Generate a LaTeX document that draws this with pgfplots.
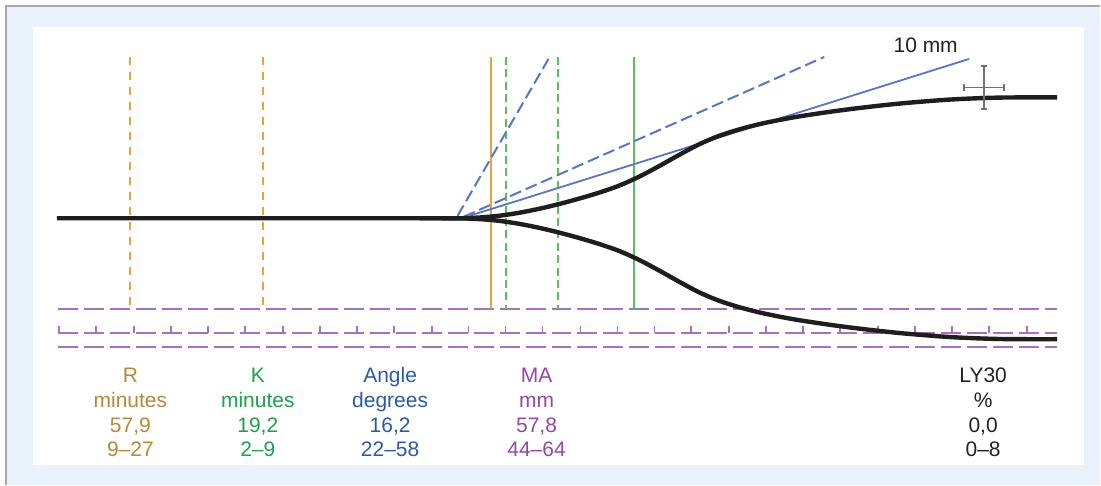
\documentclass[border=0pt]{standalone}
\usepackage{pgfplots}
\pgfplotsset{compat=1.18}
\usepackage{fontspec}
\setmainfont{Liberation Sans}
\definecolor{bgblue}{HTML}{E9F1FB}
\definecolor{bordergray}{HTML}{A8A8A8}
\definecolor{orline}{HTML}{E3A53E}
\definecolor{ortext}{HTML}{B5893A}
\definecolor{grline}{HTML}{5BBF5B}
\definecolor{grtext}{HTML}{1FA04A}
\definecolor{blline}{HTML}{5877BF}
\definecolor{bltext}{HTML}{2B5BA8}
\definecolor{puline}{HTML}{A86FBD}
\definecolor{putext}{HTML}{94489F}
\definecolor{crossgray}{HTML}{707070}
\definecolor{curveblack}{HTML}{1E1E1E}
\definecolor{txtblack}{HTML}{222222}
\begin{document}
\fontsize{10.5}{12.25}\selectfont
\begin{tikzpicture}
\begin{axis}[
  x=0.5pt, y=0.5pt, y dir=reverse,
  xmin=0, xmax=1101, ymin=0, ymax=485,
  hide axis, clip=false,
  every node/.style={font=\fontsize{10.5}{12.25}\selectfont},
]
% backgrounds
\fill[white] (axis cs:0,0) rectangle (axis cs:1101,485);
\fill[bgblue] (axis cs:6,6) rectangle (axis cs:1101,485);
\draw[bordergray, line width=1pt] (axis cs:6,485) -- (axis cs:6,6) -- (axis cs:1101,6);
\fill[white] (axis cs:33,27) rectangle (axis cs:1085,465);

% purple time lines
\addplot[puline, line width=0.95pt, dash pattern=on 10pt off 3pt, forget plot] coordinates {(58,309) (1058,309)};
\addplot[puline, line width=0.95pt, dash pattern=on 10pt off 3pt, forget plot] coordinates {(58,333.5) (1058,333.5)};
\addplot[puline, line width=0.95pt, dash pattern=on 10pt off 3pt, forget plot] coordinates {(58,347.5) (1058,347.5)};
\addplot[puline, line width=0.9pt, unbounded coords=jump, forget plot] coordinates {
(59,333.5)(59,326.5)(nan,nan)
(96,333.5)(96,326.5)(nan,nan)
(134,333.5)(134,326.5)(nan,nan)
(171,333.5)(171,326.5)(nan,nan)
(208,333.5)(208,326.5)(nan,nan)
(245,333.5)(245,326.5)(nan,nan)
(283,333.5)(283,326.5)(nan,nan)
(320,333.5)(320,326.5)(nan,nan)
(357,333.5)(357,326.5)(nan,nan)
(394,333.5)(394,326.5)(nan,nan)
(432,333.5)(432,326.5)(nan,nan)
(469,333.5)(469,326.5)(nan,nan)
(506,333.5)(506,326.5)(nan,nan)
(543,333.5)(543,326.5)(nan,nan)
(581,333.5)(581,326.5)(nan,nan)
(618,333.5)(618,326.5)(nan,nan)
(655,333.5)(655,326.5)(nan,nan)
(692,333.5)(692,326.5)(nan,nan)
(730,333.5)(730,326.5)(nan,nan)
(767,333.5)(767,326.5)(nan,nan)
(804,333.5)(804,326.5)(nan,nan)
(841,333.5)(841,326.5)(nan,nan)
(879,333.5)(879,326.5)(nan,nan)
(916,333.5)(916,326.5)(nan,nan)
(953,333.5)(953,326.5)(nan,nan)
(990,333.5)(990,326.5)(nan,nan)
(1028,333.5)(1028,326.5)
};

% vertical markers
\addplot[orline, line width=1pt, dash pattern=on 4.25pt off 3.25pt, forget plot] coordinates {(130,57) (130,309)};
\addplot[orline, line width=1pt, dash pattern=on 4.25pt off 3.25pt, forget plot] coordinates {(263,57) (263,309)};
\addplot[orline, line width=1pt, forget plot] coordinates {(491,57) (491,309)};
\addplot[grline, line width=1pt, dash pattern=on 4pt off 2.2pt, forget plot] coordinates {(506,57) (506,309)};
\addplot[grline, line width=1pt, dash pattern=on 4pt off 2.2pt, forget plot] coordinates {(558,57) (558,309)};
\addplot[grline, line width=1pt, forget plot] coordinates {(634.5,57) (634.5,309)};

% angle lines
\addplot[blline, line width=1pt, dash pattern=on 6pt off 2.5pt, forget plot] coordinates {(458,216) (549,59)};
\addplot[blline, line width=1pt, dash pattern=on 6pt off 2.5pt, forget plot] coordinates {(464,217) (825,57)};
\addplot[blline, line width=0.9pt, forget plot] coordinates {(470,216) (970,59)};

% TEG curve
\addplot[curveblack, line width=2.2pt, smooth, line join=round, line cap=butt, forget plot] coordinates {
(57,218.5)(300,218.5)(440,218.5)(460,218.5)(480,217.7)(500,215.9)(520,212.9)(540,208.9)(560,204.1)(580,198.7)(600,192.7)(620,185.7)(640,176.7)(660,166.1)(680,154.9)(700,144.3)(720,135.9)(740,129.5)(760,124.3)(780,120.1)(800,116.5)(830,112)(860,108.1)(900,103.7)(950,99.7)(1000,97.7)(1058,97.5)
};
\addplot[curveblack, line width=2.2pt, smooth, line join=round, line cap=butt, forget plot] coordinates {
(420,218.5)(440,218.5)(460,218.5)(480,219.3)(500,221.1)(520,224.1)(540,228.1)(560,232.9)(580,238.3)(600,244.3)(620,251.3)(640,260.3)(660,270.9)(680,282.1)(700,292.7)(720,301.1)(740,307.5)(760,312.7)(780,316.9)(800,320.5)(830,325)(860,328.9)(900,333.3)(950,337.3)(1000,339.3)(1058,339.5)
};

% error cross
\addplot[draw=none, mark=none, forget plot,
  error bars/.cd, x dir=both, x explicit, y dir=both, y explicit,
  error bar style={crossgray, line width=0.9pt},
  error mark options={crossgray, line width=0.9pt, mark size=1.6pt, rotate=90}]
  coordinates {(985,87.5) +- (20,21.5)};

% labels
\node[anchor=base, txtblack] at (axis cs:926.5,53) {10 mm};

\node[anchor=base, ortext] at (axis cs:130.5,383) {R};
\node[anchor=base, ortext] at (axis cs:130.5,408) {minutes};
\node[anchor=base, ortext] at (axis cs:130.5,433) {57,9};
\node[anchor=base, ortext] at (axis cs:130.5,457) {9–27};

\node[anchor=base, grtext] at (axis cs:258,383) {K};
\node[anchor=base, grtext] at (axis cs:258,408) {minutes};
\node[anchor=base, grtext] at (axis cs:258,433) {19,2};
\node[anchor=base, grtext] at (axis cs:258,457) {2–9};

\node[anchor=base, bltext] at (axis cs:390.5,383) {Angle};
\node[anchor=base, bltext] at (axis cs:390.5,408) {degrees};
\node[anchor=base, bltext] at (axis cs:390.5,433) {16,2};
\node[anchor=base, bltext] at (axis cs:390.5,457) {22–58};

\node[anchor=base, putext] at (axis cs:537,383) {MA};
\node[anchor=base, putext] at (axis cs:537,408) {mm};
\node[anchor=base, putext] at (axis cs:537,433) {57,8};
\node[anchor=base, putext] at (axis cs:537,457) {44–64};

\node[anchor=base, txtblack] at (axis cs:984,383) {LY30};
\node[anchor=base, txtblack] at (axis cs:984,408) {\%};
\node[anchor=base, txtblack] at (axis cs:984,433) {0,0};
\node[anchor=base, txtblack] at (axis cs:984,457) {0–8};
\end{axis}
\end{tikzpicture}
\end{document}
